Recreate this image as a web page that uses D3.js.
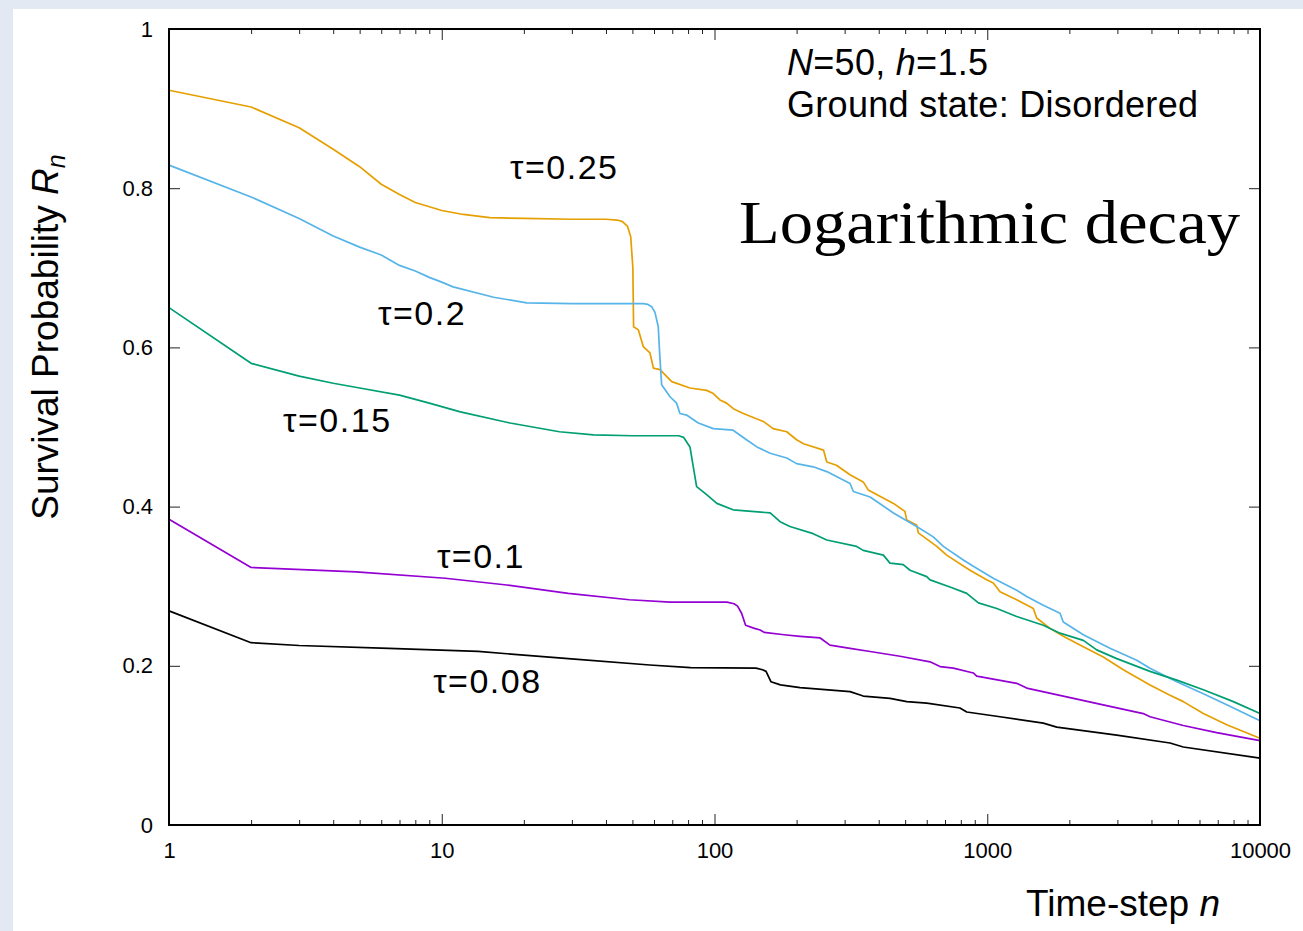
<!DOCTYPE html>
<html>
<head>
<meta charset="utf-8">
<script src="https://cdn.jsdelivr.net/npm/d3@7"></script>
<style>
  html, body { margin: 0; padding: 0; background: #e2e9f3; }
  svg { display: block; }
</style>
</head>
<body>
<div id="chart"></div>
<script>
// survival probability R_n vs time-step n, one array of [n, R] per tau
const tau025 = [[1,0.923],[2,0.902],[3,0.876],[4,0.849],[5,0.827],[6,0.805],[7,0.792],[8,0.782],[10,0.772],[12,0.767],[15,0.763],[20,0.762],[30,0.761],[40,0.761],[44,0.760],[46,0.758],[48,0.752],[49.3,0.739],[50.2,0.70],[50.5,0.626],[52.6,0.622],[54.8,0.601],[58,0.593],[59.7,0.574],[63.1,0.572],[69.7,0.557],[81.3,0.549],[93.6,0.546],[99,0.542],[104.7,0.534],[110.8,0.530],[117.2,0.523],[127.6,0.517],[151,0.507],[164,0.498],[184,0.494],[200,0.484],[212,0.479],[251,0.471],[258,0.456],[280,0.452],[314,0.440],[351,0.431],[366,0.421],[453,0.404],[499,0.394],[507,0.383],[551,0.377],[559,0.367],[653,0.350],[710,0.339],[864,0.320],[995,0.308],[1052,0.304],[1114,0.293],[1282,0.283],[1475,0.272],[1518,0.260],[1698,0.247],[1900,0.237],[2250,0.224],[2663,0.211],[3153,0.195],[3951,0.176],[4677,0.163],[5233,0.155],[6199,0.140],[7551,0.126],[10000,0.109]];
const tau02 = [[1,0.829],[2,0.789],[3,0.762],[4,0.740],[5,0.726],[6,0.716],[7,0.703],[8,0.696],[9,0.688],[10,0.682],[11,0.676],[15.5,0.663],[20.5,0.656],[30,0.655],[54.8,0.655],[57,0.654],[58.9,0.651],[60.5,0.644],[62.2,0.626],[63,0.59],[64,0.553],[68.7,0.538],[72.6,0.530],[74.7,0.517],[79,0.515],[87.2,0.505],[99,0.498],[117,0.496],[131,0.484],[143,0.475],[160,0.467],[184,0.461],[200,0.454],[230,0.450],[258,0.444],[314,0.429],[323,0.419],[372,0.412],[453,0.392],[551,0.375],[634,0.362],[690,0.350],[817,0.333],[889,0.325],[1052,0.310],[1282,0.295],[1395,0.287],[1605,0.276],[1848,0.266],[1900,0.255],[2250,0.239],[2818,0.222],[3532,0.207],[3951,0.197],[4953,0.180],[6199,0.165],[7551,0.151],[10000,0.131]];
const tau015 = [[1,0.650],[2,0.580],[3,0.564],[4,0.555],[5,0.549],[7,0.540],[9,0.530],[11.7,0.519],[17.8,0.505],[27,0.494],[36,0.490],[50,0.489],[74,0.489],[77,0.487],[81.3,0.475],[83.6,0.450],[86,0.425],[93.6,0.415],[102,0.404],[117,0.396],[160,0.392],[174,0.381],[189,0.375],[230,0.366],[258,0.358],[332,0.350],[351,0.345],[416,0.339],[440,0.329],[492,0.327],[521,0.320],[600,0.312],[617,0.308],[730,0.299],[841,0.291],[928,0.279],[1084,0.272],[1282,0.262],[1605,0.251],[1848,0.241],[2250,0.232],[2519,0.220],[2984,0.209],[3951,0.193],[4953,0.182],[6199,0.170],[7985,0.155],[10000,0.140]];
const tau01 = [[1,0.384],[2,0.3235],[4.85,0.318],[10.3,0.310],[17.3,0.3015],[29.1,0.291],[48.7,0.283],[68.8,0.280],[111,0.280],[118,0.278],[121.5,0.275],[125.7,0.266],[130,0.251],[140,0.247],[147,0.245],[152,0.242],[180,0.239],[206,0.237],[244,0.235],[265,0.226],[314,0.222],[372,0.218],[479,0.212],[617,0.205],[671,0.199],[751,0.197],[889,0.191],[915,0.187],[1282,0.178],[1395,0.172],[1955,0.161],[2818,0.149],[3733,0.140],[3951,0.136],[5233,0.125],[6934,0.116],[10000,0.106]];
const tau008 = [[1,0.269],[2,0.229],[3,0.2255],[6.4,0.222],[13.6,0.218],[29.1,0.209],[57.9,0.201],[81.7,0.1976],[142,0.197],[150,0.195],[154.5,0.193],[161,0.180],[174.5,0.176],[206,0.1725],[314,0.1675],[351,0.162],[440,0.159],[507,0.155],[600,0.153],[794,0.147],[841,0.142],[1114,0.136],[1605,0.128],[1798,0.123],[2984,0.113],[4677,0.103],[5233,0.098],[10000,0.084]];

const seriesNames = ['τ=0.25', 'τ=0.2', 'τ=0.15', 'τ=0.1', 'τ=0.08'];
const seriesData = [tau025, tau02, tau015, tau01, tau008];
const seriesColors = ['#e69f00', '#56b4e9', '#009e73', '#9400d3', '#000000'];

// label anchors in data units (n, R)
const labelN = [17.8, 5.84, 2.62, 9.6, 9.3];
const labelR = [0.811, 0.628, 0.494, 0.323, 0.166];

const xTicks = [1, 10, 100, 1000, 10000];
const yTicks = [0, 0.2, 0.4, 0.6, 0.8, 1];

const width = 1303;
const height = 931;
const margin = { top: 29, right: 43, bottom: 106, left: 169 };

const svg = d3.select('#chart')
    .append('svg')
    .attr('width', width)
    .attr('height', height);

// white card on the blue paper background
svg.append('rect')
    .attr('x', 13).attr('y', 9)
    .attr('width', width - 13).attr('height', height - 9)
    .attr('fill', '#ffffff');

const x = d3.scaleLog()
    .domain([1, 10000])
    .range([margin.left, width - margin.right]);

const y = d3.scaleLinear()
    .domain([0, 1])
    .range([height - margin.bottom, margin.top]);

const minorTicks = [];
for (let dec = 1; dec < 10000; dec *= 10) {
    for (let k = 2; k <= 9; k++) minorTicks.push(dec * k);
}

const font = "'Liberation Sans', Arial, Helvetica, sans-serif";

function styleAxis(g) {
    g.select('.domain').remove();
    g.selectAll('.tick line').attr('stroke', '#222').attr('stroke-width', 1);
    g.selectAll('.tick text')
        .attr('fill', '#000')
        .style('font-family', font)
        .style('font-size', '22px');
}

// bottom axis
svg.append('g')
    .attr('transform', `translate(0, ${y(0)})`)
    .call(d3.axisBottom(x).tickValues(xTicks).tickSizeInner(-11).tickSizeOuter(0)
        .tickPadding(17).tickFormat(d3.format('d')))
    .call(styleAxis);
svg.append('g')
    .attr('transform', `translate(0, ${y(0)})`)
    .call(d3.axisBottom(x).tickValues(minorTicks).tickSizeInner(-5).tickSizeOuter(0).tickFormat(''))
    .call(styleAxis);

// top axis (mirror)
svg.append('g')
    .attr('transform', `translate(0, ${y(1)})`)
    .call(d3.axisTop(x).tickValues(xTicks).tickSizeInner(-11).tickSizeOuter(0).tickFormat(''))
    .call(styleAxis);
svg.append('g')
    .attr('transform', `translate(0, ${y(1)})`)
    .call(d3.axisTop(x).tickValues(minorTicks).tickSizeInner(-5).tickSizeOuter(0).tickFormat(''))
    .call(styleAxis);

// left axis
svg.append('g')
    .attr('transform', `translate(${x(1)}, 0)`)
    .call(d3.axisLeft(y).tickValues(yTicks).tickSizeInner(-11).tickSizeOuter(0)
        .tickPadding(16).tickFormat(d => (d === 0 || d === 1) ? String(d) : d.toFixed(1)))
    .call(styleAxis);

// right axis (mirror)
svg.append('g')
    .attr('transform', `translate(${x(10000)}, 0)`)
    .call(d3.axisRight(y).tickValues(yTicks).tickSizeInner(-11).tickSizeOuter(0).tickFormat(''))
    .call(styleAxis);

const line = d3.line()
    .x(d => x(d[0]))
    .y(d => y(d[1]));

svg.append('g')
    .selectAll('path')
    .data(seriesData)
    .enter()
    .append('path')
    .attr('d', line)
    .attr('fill', 'none')
    .attr('stroke', (d, i) => seriesColors[i])
    .attr('stroke-width', 1.7)
    .attr('stroke-linejoin', 'round');

// tau labels (gnuplot's Helvetica is a bit wider than Liberation Sans)
svg.append('g')
    .selectAll('text')
    .data(seriesNames)
    .enter()
    .append('text')
    .attr('x', (d, i) => x(labelN[i]))
    .attr('y', (d, i) => y(labelR[i]))
    .style('font-family', font)
    .style('font-size', '34px')
    .style('letter-spacing', '1.5px')
    .text(d => d);

// frame
svg.append('rect')
    .attr('x', x(1)).attr('y', y(1))
    .attr('width', x(10000) - x(1))
    .attr('height', y(0) - y(1))
    .attr('fill', 'none')
    .attr('stroke', '#000')
    .attr('stroke-width', 2);

// annotations
const note1 = svg.append('text')
    .attr('x', 787).attr('y', 75)
    .attr('textLength', 201)
    .style('font-family', font).style('font-size', '36px');
note1.append('tspan').style('font-style', 'italic').text('N');
note1.append('tspan').text('=50, ');
note1.append('tspan').style('font-style', 'italic').text('h');
note1.append('tspan').text('=1.5');

svg.append('text')
    .attr('x', 787).attr('y', 117)
    .attr('textLength', 411)
    .style('font-family', font).style('font-size', '36px')
    .text('Ground state: Disordered');

svg.append('text')
    .attr('x', 739).attr('y', 243)
    .attr('textLength', 501)
    .attr('lengthAdjust', 'spacingAndGlyphs')
    .style('font-family', "'Liberation Serif', 'Times New Roman', serif")
    .style('font-size', '62px')
    .text('Logarithmic decay');

// axis titles
const yTitle = svg.append('text')
    .attr('transform', 'translate(58, 337) rotate(-90)')
    .attr('text-anchor', 'middle')
    .style('font-family', font).style('font-size', '37px');
yTitle.append('tspan').text('Survival Probability ');
yTitle.append('tspan').style('font-style', 'italic').text('R');
yTitle.append('tspan').style('font-style', 'italic').style('font-size', '25px').attr('dy', 7).text('n');

const xTitle = svg.append('text')
    .attr('x', 1220).attr('y', 916)
    .attr('text-anchor', 'end')
    .style('font-family', font).style('font-size', '37px');
xTitle.append('tspan').text('Time-step ');
xTitle.append('tspan').style('font-style', 'italic').text('n');
</script>
</body>
</html>
